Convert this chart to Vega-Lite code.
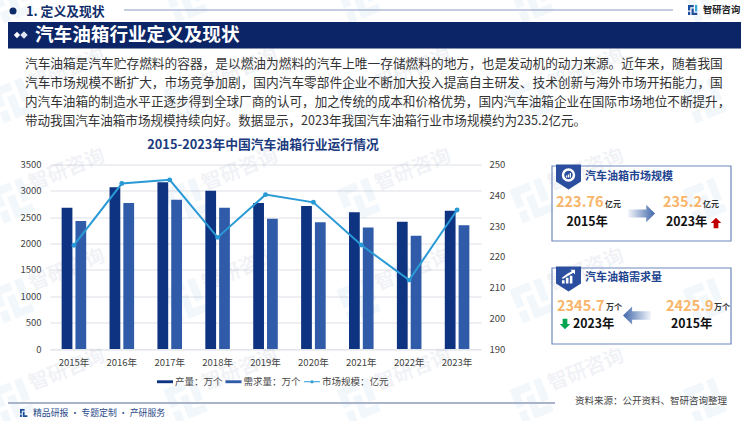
{
"$schema":"https://vega.github.io/schema/vega-lite/v6.json",
"width":431,"height":184.5,
"autosize":{"type":"none"},
"padding":{"left":50,"top":164.5,"right":269,"bottom":72},
"background":"#ffffff",
"config":{"font":"Noto Sans CJK SC","view":{"stroke":null}},
"datasets":{
"bars":[
{"year":"2015年","series":"产量：万个","value":2680},{"year":"2015年","series":"需求量：万个","value":2425.9},
{"year":"2016年","series":"产量：万个","value":3070},{"year":"2016年","series":"需求量：万个","value":2770},
{"year":"2017年","series":"产量：万个","value":3165},{"year":"2017年","series":"需求量：万个","value":2830},
{"year":"2018年","series":"产量：万个","value":3000},{"year":"2018年","series":"需求量：万个","value":2680},
{"year":"2019年","series":"产量：万个","value":2770},{"year":"2019年","series":"需求量：万个","value":2470},
{"year":"2020年","series":"产量：万个","value":2715},{"year":"2020年","series":"需求量：万个","value":2405},
{"year":"2021年","series":"产量：万个","value":2595},{"year":"2021年","series":"需求量：万个","value":2305},
{"year":"2022年","series":"产量：万个","value":2415},{"year":"2022年","series":"需求量：万个","value":2150},
{"year":"2023年","series":"产量：万个","value":2625},{"year":"2023年","series":"需求量：万个","value":2345.7}],
"line":[
{"year":"2015年","series":"市场规模：亿元","value":223.76},{"year":"2016年","series":"市场规模：亿元","value":243.8},
{"year":"2017年","series":"市场规模：亿元","value":245},{"year":"2018年","series":"市场规模：亿元","value":226.3},
{"year":"2019年","series":"市场规模：亿元","value":240.2},{"year":"2020年","series":"市场规模：亿元","value":237.7},
{"year":"2021年","series":"市场规模：亿元","value":223.8},{"year":"2022年","series":"市场规模：亿元","value":212.4},
{"year":"2023年","series":"市场规模：亿元","value":235.2}],
"wmt":[
{"col":0,"row":1},{"col":1,"row":1},{"col":2,"row":1},{"col":3,"row":1},
{"col":0,"row":2},{"col":1,"row":2},{"col":2,"row":2},{"col":3,"row":2},
{"col":0,"row":3},{"col":1,"row":3},{"col":2,"row":3},{"col":3,"row":3},
{"col":0,"row":4},{"col":1,"row":4},{"col":2,"row":4},{"col":3,"row":4}],
"wm":[
{"col":0,"row":0},{"col":1,"row":0},{"col":2,"row":0},{"col":3,"row":0},{"col":4,"row":0},
{"col":0,"row":1},{"col":1,"row":1},{"col":2,"row":1},{"col":3,"row":1},{"col":4,"row":1},
{"col":0,"row":2},{"col":1,"row":2},{"col":2,"row":2},{"col":3,"row":2},{"col":4,"row":2},
{"col":0,"row":3},{"col":1,"row":3},{"col":2,"row":3},{"col":3,"row":3},{"col":4,"row":3},
{"col":0,"row":4},{"col":1,"row":4},{"col":2,"row":4},{"col":3,"row":4},{"col":4,"row":4}],
"one":[{}]
},
"data":{"name":"one"},
"resolve":{"scale":{"x":"independent","y":"independent"}},
"layer":[
{"data":{"name":"wmt"},"mark":{"type":"text","text":"智研咨询","fontSize":20,"angle":-22,"color":"#1d3a7a","opacity":0.06,"fontWeight":"bold","align":"center","baseline":"middle"},
 "encoding":{"x":{"field":"col","type":"quantitative","scale":{"domain":[0,4],"range":[17,709]},"axis":null},"y":{"field":"row","type":"quantitative","scale":{"domain":[0,4],"range":[-194.5,205.5]},"axis":null}}},
{"data":{"name":"wm"},"mark":{"type":"point","filled":true,"opacity":0.06,"size":1300,"angle":-22,"color":"#1d7ad0","shape":"M-1,-1H0.15V-0.55H-0.55V0.1H-1Z M-1,0.35H-0.55V1H-1Z M0.4,-1H0.85V0.3H0.4Z M-0.3,-0.3H0.15V0.55H0.85V1H-0.3Z"},
 "encoding":{"x":{"field":"col","type":"quantitative","scale":{"domain":[0,4],"range":[-36,656]},"axis":null},"y":{"field":"row","type":"quantitative","scale":{"domain":[0,4],"range":[-164.5,235.5]},"axis":null}}},

{"mark":{"type":"text","text":"2015-2023年中国汽车油箱行业运行情况","fontSize":12.8,"fontWeight":"bold","color":"#1c3b7e","align":"center","baseline":"middle"},"encoding":{"x":{"value":213},"y":{"value":-19.5}}},
{"mark":{"type":"point","filled":true,"opacity":1,"size":50,"shape":"circle","color":"#0f2d6b"},"encoding":{"x":{"value":-37},"y":{"value":-153.5}}},
{"mark":{"type":"text","text":"1. 定义及现状","fontSize":12.8,"fontWeight":"bold","color":"#0f2d6b","align":"left","baseline":"middle"},"encoding":{"x":{"value":-24},"y":{"value":-153}}},
{"mark":{"type":"rule","color":"#8a9bc4","strokeWidth":1.2},"encoding":{"x":{"value":74},"x2":{"value":623},"y":{"value":-154.5}}},
{"mark":{"type":"point","filled":true,"opacity":1,"size":100,"color":"#1d4e9e","shape":"M-1,-1H0.15V-0.55H-0.55V0.1H-1Z M-1,0.35H-0.55V1H-1Z M-0.3,-0.3H0.15V0.55H0.85V1H-0.3Z"},"encoding":{"x":{"value":643},"y":{"value":-154.5}}},
{"mark":{"type":"point","filled":true,"opacity":1,"size":100,"color":"#35a7dd","shape":"M0.4,-1H0.85V0.3H0.4Z"},"encoding":{"x":{"value":643},"y":{"value":-154.5}}},
{"mark":{"type":"text","text":"智研咨询","fontSize":9.3,"fontWeight":"bold","color":"#222222","align":"left","baseline":"middle"},"encoding":{"x":{"value":653},"y":{"value":-154.5}}},
{"mark":{"type":"rect","color":"#0b2566"},"encoding":{"x":{"value":-42},"x2":{"value":691},"y":{"value":-142.5},"y2":{"value":-116}}},
{"mark":{"type":"point","filled":true,"opacity":1,"size":40,"shape":"diamond","color":"#ffffff"},"encoding":{"x":{"value":-33},"y":{"value":-129.5}}},
{"mark":{"type":"point","filled":true,"opacity":1,"size":55,"shape":"diamond","color":"#dfe5f0"},"encoding":{"x":{"value":-26},"y":{"value":-129.5}}},
{"mark":{"type":"text","text":"汽车油箱行业定义及现状","fontSize":18.6,"fontWeight":"bold","color":"#ffffff","align":"left","baseline":"middle"},"encoding":{"x":{"value":-15},"y":{"value":-129.5}}},

{"mark":{"type":"text","text":"汽车油箱是汽车贮存燃料的容器，是以燃油为燃料的汽车上唯一存储燃料的地方，也是发动机的动力来源。近年来，随着我国","fontSize":12.7,"color":"#333333","align":"left","baseline":"middle"},"encoding":{"x":{"value":-25},"y":{"value":-100.5}}},
{"mark":{"type":"text","text":"汽车市场规模不断扩大，市场竞争加剧，国内汽车零部件企业不断加大投入提高自主研发、技术创新与海外市场开拓能力，国","fontSize":12.7,"color":"#333333","align":"left","baseline":"middle"},"encoding":{"x":{"value":-25},"y":{"value":-81.5}}},
{"mark":{"type":"text","text":"内汽车油箱的制造水平正逐步得到全球厂商的认可，加之传统的成本和价格优势，国内汽车油箱企业在国际市场地位不断提升，","fontSize":12.6,"color":"#333333","align":"left","baseline":"middle"},"encoding":{"x":{"value":-25},"y":{"value":-62.5}}},
{"mark":{"type":"text","text":"带动我国汽车油箱市场规模持续向好。数据显示，2023年我国汽车油箱行业市场规模约为235.2亿元。","fontSize":12.55,"color":"#333333","align":"left","baseline":"middle"},"encoding":{"x":{"value":-25},"y":{"value":-43.5}}},

{"mark":{"type":"rect","fill":"transparent","stroke":"#6f88bf","strokeWidth":1.2},"encoding":{"x":{"value":502},"x2":{"value":681},"y":{"value":1.5},"y2":{"value":76.5}}},
{"mark":{"type":"point","filled":true,"opacity":1,"size":625,"color":"#2b4f9e","shape":"M-1,-1H1V0.35L0,1L-1,0.35Z"},"encoding":{"x":{"value":518.5},"y":{"value":12.5}}},
{"mark":{"type":"point","filled":false,"opacity":1,"size":120,"shape":"circle","color":"#ffffff","strokeWidth":2.5},"encoding":{"x":{"value":518.5},"y":{"value":10.5}}},
{"mark":{"type":"point","filled":true,"opacity":1,"size":25,"color":"#ffffff","shape":"M-1,1V0.2H-0.5V1Z M-0.25,1V-0.2H0.25V1Z M0.5,1V-0.8H1V1Z"},"encoding":{"x":{"value":518.5},"y":{"value":10.5}}},
{"mark":{"type":"text","text":"汽车油箱市场规模","fontSize":11,"fontWeight":"bold","color":"#1f4490","align":"left","baseline":"middle"},"encoding":{"x":{"value":535},"y":{"value":12.5}}},
{"mark":{"type":"text","text":"223.76","fontSize":14.5,"fontWeight":"bold","color":"#f8b56a","align":"left","baseline":"middle"},"encoding":{"x":{"value":506},"y":{"value":38.5}}},
{"mark":{"type":"text","text":"亿元","fontSize":8,"fontWeight":"bold","color":"#333333","align":"left","baseline":"middle"},"encoding":{"x":{"value":555},"y":{"value":40.5}}},
{"mark":{"type":"text","text":"2015年","fontSize":12.3,"fontWeight":"bold","color":"#111111","align":"left","baseline":"middle"},"encoding":{"x":{"value":516.5},"y":{"value":57.5}}},
{"mark":{"type":"point","filled":true,"opacity":1,"size":729,"shape":"M-1,-0.3H0.35V-0.65L1,0L0.35,0.65V0.3H-1Z","fill":{"gradient":"linear","x1":0,"y1":0,"x2":1,"y2":0,"stops":[{"offset":0,"color":"#f3f6fb"},{"offset":1,"color":"#3f66a8"}]}},"encoding":{"x":{"value":591.5},"y":{"value":49}}},
{"mark":{"type":"text","text":"235.2","fontSize":14.5,"fontWeight":"bold","color":"#f8b56a","align":"left","baseline":"middle"},"encoding":{"x":{"value":613},"y":{"value":38.5}}},
{"mark":{"type":"text","text":"亿元","fontSize":8,"fontWeight":"bold","color":"#333333","align":"left","baseline":"middle"},"encoding":{"x":{"value":653},"y":{"value":40.5}}},
{"mark":{"type":"text","text":"2023年","fontSize":12.3,"fontWeight":"bold","color":"#111111","align":"left","baseline":"middle"},"encoding":{"x":{"value":616},"y":{"value":57.5}}},
{"mark":{"type":"point","filled":true,"opacity":1,"size":110,"color":"#c00000","shape":"M0,-1L1,0H0.45V1H-0.45V0H-1Z"},"encoding":{"x":{"value":666},"y":{"value":58.5}}},

{"mark":{"type":"rect","fill":"transparent","stroke":"#6f88bf","strokeWidth":1.2},"encoding":{"x":{"value":502},"x2":{"value":681},"y":{"value":103.5},"y2":{"value":179.5}}},
{"mark":{"type":"point","filled":true,"opacity":1,"size":625,"color":"#2b4f9e","shape":"M-1,-1H1V0.35L0,1L-1,0.35Z"},"encoding":{"x":{"value":518.5},"y":{"value":114.5}}},
{"mark":{"type":"point","filled":true,"opacity":1,"size":170,"color":"#ffffff","shape":"M-1,1V0.5H-0.6V1Z M-0.4,1V0.1H0V1Z M0.2,1V-0.2H0.6V1Z M-1,0.1L-0.2,-0.5L0.5,-0.9L0.3,-1.1H1V-0.4L0.75,-0.65L-0.1,-0.15L-0.9,0.3Z"},"encoding":{"x":{"value":518.5},"y":{"value":112.5}}},
{"mark":{"type":"text","text":"汽车油箱需求量","fontSize":11,"fontWeight":"bold","color":"#1f4490","align":"left","baseline":"middle"},"encoding":{"x":{"value":535},"y":{"value":113.5}}},
{"mark":{"type":"text","text":"2345.7","fontSize":14.5,"fontWeight":"bold","color":"#f8b56a","align":"left","baseline":"middle"},"encoding":{"x":{"value":507},"y":{"value":142.5}}},
{"mark":{"type":"text","text":"万个","fontSize":8,"fontWeight":"bold","color":"#333333","align":"left","baseline":"middle"},"encoding":{"x":{"value":556},"y":{"value":143.5}}},
{"mark":{"type":"text","text":"2425.9","fontSize":14.5,"fontWeight":"bold","color":"#f8b56a","align":"left","baseline":"middle"},"encoding":{"x":{"value":616},"y":{"value":142.5}}},
{"mark":{"type":"text","text":"万个","fontSize":8,"fontWeight":"bold","color":"#333333","align":"left","baseline":"middle"},"encoding":{"x":{"value":664},"y":{"value":143.5}}},
{"mark":{"type":"text","text":"2023年","fontSize":12.3,"fontWeight":"bold","color":"#111111","align":"left","baseline":"middle"},"encoding":{"x":{"value":523},"y":{"value":159.5}}},
{"mark":{"type":"text","text":"2015年","fontSize":12.3,"fontWeight":"bold","color":"#111111","align":"left","baseline":"middle"},"encoding":{"x":{"value":621},"y":{"value":159.5}}},
{"mark":{"type":"point","filled":true,"opacity":1,"size":110,"color":"#00a651","shape":"M0,1L1,0H0.45V-1H-0.45V0H-1Z"},"encoding":{"x":{"value":515},"y":{"value":159.5}}},
{"mark":{"type":"point","filled":true,"opacity":1,"size":784,"shape":"M1,-0.3H-0.35V-0.65L-1,0L-0.35,0.65V0.3H1Z","fill":{"gradient":"linear","x1":0,"y1":0,"x2":1,"y2":0,"stops":[{"offset":0,"color":"#3f66a8"},{"offset":1,"color":"#f3f6fb"}]}},"encoding":{"x":{"value":587},"y":{"value":151}}},

{"mark":{"type":"rule","color":"#a9b4cc","strokeWidth":2},"encoding":{"x":{"value":-42},"x2":{"value":505},"y":{"value":238.5}}},
{"mark":{"type":"text","text":"资料来源：公开资料、智研咨询整理","fontSize":9.5,"color":"#444444","align":"left","baseline":"middle"},"encoding":{"x":{"value":525},"y":{"value":236.5}}},
{"mark":{"type":"text","text":"精品研报 · 专题定制 · 产研服务","fontSize":8.9,"color":"#2a4a8a","align":"left","baseline":"middle"},"encoding":{"x":{"value":-17},"y":{"value":248.5}}},
{"mark":{"type":"point","filled":true,"opacity":1,"size":64,"color":"#1d4e9e","shape":"M-1,-1H0.15V-0.55H-0.55V0.1H-1Z M-1,0.35H-0.55V1H-1Z M-0.3,-0.3H0.15V0.55H0.85V1H-0.3Z"},"encoding":{"x":{"value":-26},"y":{"value":248.5}}},

{"data":{"name":"bars"},"mark":{"type":"bar"},
 "encoding":{
  "x":{"field":"year","type":"nominal","sort":null,"scale":{"type":"band","paddingInner":0.487,"paddingOuter":0.243},
   "axis":{"title":null,"labelAngle":0,"ticks":false,"labelPadding":8,"labelFontSize":9.5,"labelColor":"#444444","domainColor":"#e4e6ec","domainWidth":1.2,"grid":false}},
  "xOffset":{"field":"series","sort":null,"scale":{"paddingInner":0.22}},
  "y":{"field":"value","type":"quantitative","scale":{"domain":[0,3500],"nice":false},
   "axis":{"title":null,"values":[0,500,1000,1500,2000,2500,3000,3500],"format":"d","ticks":false,"domain":false,"labelPadding":9,"labelFontSize":9.5,"labelColor":"#444444","grid":true,"gridColor":"#e8eaef","gridWidth":1.3}},
  "color":{"field":"series","type":"nominal","sort":null,"scale":{"domain":["产量：万个","需求量：万个","市场规模：亿元"],"range":["#0e3380","#2f5ba8","#2a9ad6"]},
   "legend":{"title":null,"orient":"none","legendX":107,"legendY":209,"direction":"horizontal","columns":3,"columnPadding":2.5,"labelFontSize":9.5,"labelColor":"#444444","labelOffset":2,"symbolSize":256,"symbolStrokeWidth":0,"symbolOpacity":1,
    "encode":{"symbols":{"update":{"shape":{"signal":"datum.value==='市场规模：亿元' ? 'M-1,-0.06H1V0.06H-1Z M-0.2,0A0.2,0.2 0 1,1 0.2,0A0.2,0.2 0 1,1 -0.2,0Z' : 'M-1,-0.18H1V0.18H-1Z'"}}}}}}
 }},
{"data":{"name":"line"},"mark":{"type":"line","strokeWidth":2},
 "encoding":{
  "x":{"field":"year","type":"nominal","sort":null,"scale":{"type":"band","paddingInner":0.487,"paddingOuter":0.243},"axis":null},
  "y":{"field":"value","type":"quantitative","scale":{"domain":[190,250],"nice":false},
   "axis":{"orient":"right","title":null,"values":[190,200,210,220,230,240,250],"ticks":false,"domain":false,"labelPadding":8,"labelFontSize":9.5,"labelColor":"#444444","grid":false}},
  "color":{"field":"series","type":"nominal","sort":null}}},
{"data":{"name":"line"},"mark":{"type":"point","filled":true,"opacity":1,"size":24},
 "encoding":{
  "x":{"field":"year","type":"nominal","sort":null,"scale":{"type":"band","paddingInner":0.487,"paddingOuter":0.243},"axis":null},
  "y":{"field":"value","type":"quantitative","scale":{"domain":[190,250],"nice":false},"axis":null},
  "color":{"field":"series","type":"nominal","sort":null}}}
]
}
